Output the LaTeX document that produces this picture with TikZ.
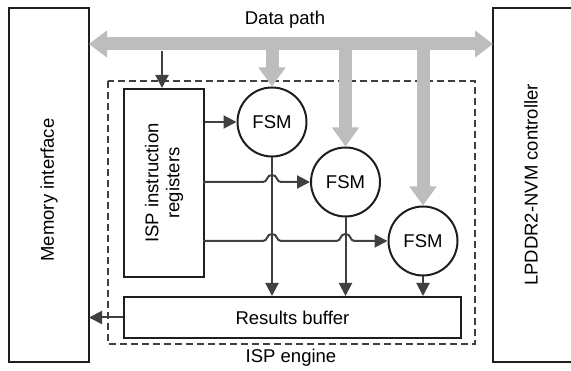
\documentclass[tikz,border=0pt]{standalone}
\usepackage{fontspec}
\setmainfont{Liberation Sans}
\usetikzlibrary{arrows.meta}
\definecolor{wire}{HTML}{404040}
\definecolor{bus}{HTML}{BDBDBD}
\definecolor{edge}{HTML}{1E1E1E}
\begin{document}
\begin{tikzpicture}[x=1pt,y=-1pt,
  font=\fontsize{18.5}{21}\selectfont,
  block/.style={draw=edge,line width=2pt,fill=white,inner sep=0pt},
  fsm/.style={circle,draw=edge,line width=2pt,fill=white,minimum size=69pt,inner sep=0pt},
  wirearrow/.style={draw=wire,line width=2pt,-{Triangle[length=13pt,width=13pt]}},
  busline/.style={draw=bus,line width=13pt},
  bushead/.style={-{Triangle[length=19pt,width=26pt]}},
  busheads/.style={{Triangle[length=18pt,width=26pt]}-{Triangle[length=18pt,width=26pt]}},
  lbl/.style={inner sep=0pt}]
\useasboundingbox (0,0) rectangle (571,371);

% side blocks
\draw[block] (9,8) rectangle (89,362);
\draw[block] (493,8) rectangle (575,362);
\coordinate (memR) at (89,44);
\coordinate (lpdL) at (493,44);
\node[lbl,rotate=90] (mem) at (49,190) {Memory interface};
\node[lbl,rotate=90] (lpd) at (531,185) {LPDDR2-NVM controller};

% ISP engine outline
\draw[wire,line width=1.6pt,dash pattern=on 7pt off 4pt] (108,81) rectangle (475,344);
\node[lbl] (eng) at (291,358) {ISP engine};

% inner blocks
\node[block,minimum width=80pt,minimum height=188pt,anchor=north west] (reg) at (123,88) {};
\node[lbl,rotate=90,align=center,font=\fontsize{18.5}{21}\selectfont] at (reg.center) {ISP instruction\\registers};
\node[block,minimum width=337pt,minimum height=41pt,anchor=north west] (buf) at (123,296) {Results buffer};

\node[fsm] (f1) at (272,122) {FSM};
\node[fsm] (f2) at (345.5,182) {FSM};
\node[fsm] (f3) at (423,241) {FSM};

% data path bus
\draw[busline,busheads] (memR) -- (lpdL);
\node[lbl] (dp) at (285,20) {Data path};
\coordinate (b1) at (f1.center |- memR);
\coordinate (b2) at (f2.center |- memR);
\coordinate (b3) at (f3.center |- memR);
\draw[busline,bushead] (b1) -- (f1.north);
\draw[busline,bushead] (b2) -- (f2.north);
\draw[busline,bushead] (b3) -- (f3.north);

% control wires
\coordinate (rtop) at (162,51);
\draw[wirearrow] (rtop) -- (rtop |- reg.north);
\draw[wirearrow] (reg.east |- f1.west) -- (f1.west);
\draw[wirearrow] (f1.south) -- (f1.south |- buf.north);
\draw[wirearrow] (f2.south) -- (f2.south |- buf.north);
\draw[wirearrow] (f3.south) -- (f3.south |- buf.north);
\draw[wirearrow] (buf.west) -- (buf.west -| memR);

% register outputs hopping over the FSM wires
\def\hop#1#2{-- ({#1-9},#2) .. controls ({#1-4},#2) and ({#1-6},{#2-7}) .. (#1,{#2-7}) .. controls ({#1+6},{#2-7}) and ({#1+4},#2) .. ({#1+9},#2)}
\draw[wirearrow] (203,182) \hop{272}{182} -- (f2.west);
\draw[wirearrow] (203,241) \hop{272}{241} \hop{345.5}{241} -- (f3.west);
\end{tikzpicture}
\end{document}
